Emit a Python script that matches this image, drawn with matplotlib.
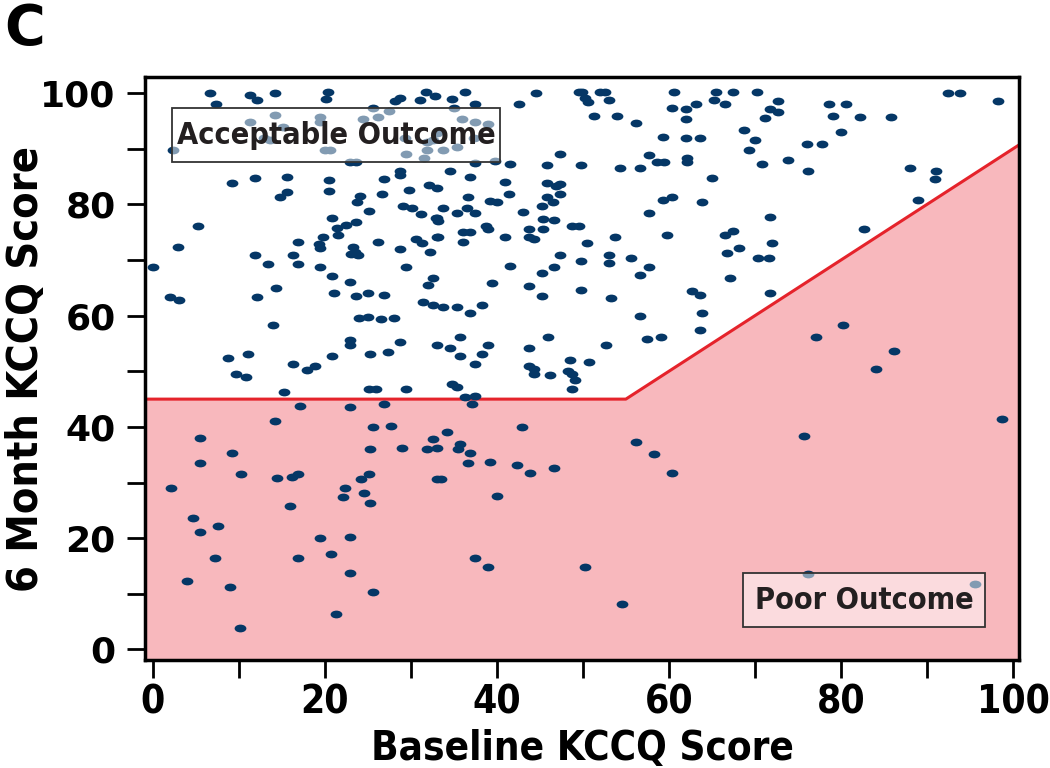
import matplotlib
matplotlib.use("Agg")
import matplotlib.pyplot as plt
from matplotlib.path import Path
from matplotlib.patches import Rectangle

# baseline KCCQ (x) and 6 month KCCQ (y)
baseline = [
    6.7, 7.4, 11.3, 12.1, 14.2, 20.4, 20.1, 14.2, 11.3, 19.5, 19.5, 15.2, 12.9, 13.6, 2.4, 20.0, 20.6, 22.9, 23.6, 25.6,
    26.2, 27.5, 24.5, 28.2, 28.8, 29.3, 29.5, 31.5, 31.9, 31.8, 32.8, 31.1,
    9.2, 11.9, 15.6, 20.5, 20.5, 15.6, 14.8, 26.9, 28.7, 28.7, 26.7, 24.1, 23.7, 29.8, 32.1, 33.1, 25.2, 29.1,
    30.2, 31.2, 32.9, 20.9, 23.6, 22.5, 21.4, 21.6, 5.3, 3.0, 16.9, 19.3, 19.5, 19.8, 23.3, 23.5, 23.9, 23.1, 26.2, 28.7,
    30.6, 31.3, 32.2, 33.1, 11.9, 16.3, 13.4, 16.9, 19.5, 29.5, 0.0,
    34.8, 36.3, 37.5, 35.0, 35.9, 37.5, 39.0, 37.3, 33.0, 31.9, 32.6, 35.4, 33.8, 39.8, 42.6, 44.5, 49.5, 49.9, 50.2, 50.6,
    52.0, 52.6, 53.1, 51.3, 54.0, 56.2, 60.6, 60.4, 62.0, 63.1, 62.0, 65.5, 65.2, 59.3, 62.0, 63.6, 47.3, 57.7, 58.6, 59.4,
    62.1, 62.1, 56.7, 54.3, 49.8, 45.8, 41.5, 37.5, 34.6, 36.9, 41.0, 41.4, 45.8, 46.9, 47.4, 47.4, 45.8, 46.5, 45.2, 36.6,
    39.2, 40.0, 43.1, 45.4, 46.7, 48.7, 49.5, 45.4, 43.7, 43.7, 44.3, 41.0, 50.5, 53.7, 59.8, 57.7, 59.3, 60.4, 63.9, 65.0,
    38.8, 39.0, 36.1, 36.9, 36.1, 33.2, 36.5, 37.5, 35.4, 33.8, 33.0, 33.2, 47.3, 49.8, 53.1, 53.1, 55.6, 57.7, 41.5, 46.7,
    45.2, 56.7,
    67.5, 66.5, 70.2, 72.7, 71.8, 72.7, 71.2, 68.7, 70.0, 69.3, 70.8, 73.9, 78.6, 80.6, 79.1, 82.2, 85.8, 80.0, 76.0, 77.8,
    76.2, 92.5, 93.8, 98.3, 71.7, 66.5, 67.5, 66.7, 68.1, 72.0, 70.4, 71.6, 82.7, 88.0, 91.0, 90.9, 88.9,
    20.9, 22.9, 32.6, 32.0, 2.0, 3.1, 12.1, 14.3, 21.1, 23.6, 25.0, 26.9, 31.4, 32.6, 24.0, 25.0, 26.5, 28.1, 14.0, 22.9,
    22.9, 28.7, 33.1, 8.8, 11.1, 9.7, 10.9, 16.3, 17.9, 18.9, 20.9, 25.3, 27.3, 15.3, 25.2, 26.0, 29.4, 17.1, 22.9, 26.9,
    14.2, 25.6, 27.7, 5.5, 9.2, 25.3, 29.0, 31.9, 33.1, 32.6,
    39.4, 43.7, 45.2, 49.8, 53.3, 62.7, 63.6, 63.8, 63.6, 56.7, 57.5, 59.1, 52.7, 33.8, 35.4, 36.9, 38.3, 35.7, 34.6, 35.7,
    38.3, 39.0, 37.5, 46.0, 43.7, 43.7, 44.3, 44.3, 46.2, 48.5, 50.7, 48.3, 48.7, 49.1, 48.8, 34.8, 35.4, 36.3, 37.5, 37.1,
    42.9, 34.2, 35.7, 35.5, 36.9, 56.2, 58.3,
    5.5, 10.3, 2.1, 14.4, 16.2, 16.9, 16.0, 22.3, 22.1, 24.2, 25.2, 24.6, 25.3, 33.1, 4.7, 5.5, 7.6, 7.3, 4.0, 9.0,
    10.2, 19.4, 22.9, 20.7, 16.9, 22.9, 25.6, 21.3,
    36.6, 39.2, 42.3, 43.9, 46.7, 33.5, 40.0, 60.4, 37.5, 39.0, 50.2, 54.6,
    67.1, 71.7, 80.2, 77.1, 86.2, 84.1, 98.7, 75.7, 76.2, 95.6,
]
month6 = [
    100.1, 98.0, 99.6, 98.8, 100.1, 100.2, 99.0, 96.1, 94.9, 95.8, 94.9, 94.0, 91.9, 91.5, 89.8, 89.8, 89.8, 87.7, 87.7, 97.3,
    95.8, 96.8, 95.3, 98.6, 99.1, 91.9, 89.1, 88.4, 89.8, 100.2, 99.5, 98.7,
    83.9, 84.7, 85.0, 84.3, 82.4, 82.2, 81.4, 84.5, 86.0, 85.3, 81.8, 81.6, 80.5, 82.6, 83.5, 82.9, 78.9, 79.7,
    79.3, 78.3, 77.5, 77.5, 76.9, 76.3, 75.7, 74.5, 76.2, 72.4, 73.3, 72.8, 72.1, 74.2, 72.4, 71.5, 70.9, 71.0, 73.3, 72.0,
    73.7, 73.0, 71.4, 74.1, 70.9, 70.9, 69.2, 69.2, 68.8, 68.8, 68.8,
    99.0, 100.2, 98.0, 97.3, 95.3, 94.9, 94.4, 91.9, 92.8, 91.3, 91.6, 90.4, 89.8, 87.8, 98.0, 100.1, 100.2, 100.2, 99.2, 98.5,
    100.2, 100.2, 98.8, 95.9, 95.9, 94.7, 100.2, 97.3, 97.1, 98.0, 95.3, 100.2, 98.7, 92.1, 91.9, 91.9, 89.1, 88.9, 87.7, 87.7,
    88.3, 87.7, 86.6, 86.6, 87.1, 87.1, 87.2, 87.4, 86.0, 85.0, 84.1, 81.9, 83.9, 83.3, 83.6, 81.9, 81.4, 80.4, 79.7, 81.4,
    80.6, 80.4, 78.7, 77.4, 77.2, 76.2, 76.2, 75.6, 75.6, 74.1, 73.8, 74.1, 73.0, 74.1, 74.5, 78.5, 80.8, 81.4, 80.4, 84.8,
    76.2, 75.5, 75.1, 75.1, 73.3, 74.1, 79.3, 78.4, 78.4, 79.3, 77.6, 77.1, 70.9, 69.9, 70.9, 69.4, 70.3, 68.8, 69.0, 68.8,
    67.6, 67.4,
    100.2, 98.0, 100.2, 98.6, 97.2, 96.7, 95.5, 93.4, 91.5, 89.8, 87.3, 87.9, 98.0, 98.0, 95.9, 95.7, 95.7, 93.0, 90.9, 90.9,
    86.0, 100.1, 100.1, 98.6, 77.8, 74.5, 75.3, 71.3, 72.1, 73.0, 70.3, 70.3, 75.6, 86.5, 86.0, 84.5, 80.8,
    67.1, 66.1, 66.7, 65.5, 63.4, 62.9, 63.4, 65.0, 64.0, 63.6, 64.0, 63.7, 62.5, 61.9, 59.5, 59.8, 59.4, 59.5, 58.3, 55.6,
    54.7, 55.3, 54.7, 52.4, 53.2, 49.6, 48.9, 51.4, 50.2, 51.0, 52.8, 53.1, 53.5, 46.3, 46.8, 46.8, 46.8, 43.8, 43.6, 44.2,
    41.1, 40.0, 40.2, 38.1, 35.3, 36.0, 36.3, 36.0, 36.3, 37.9,
    65.8, 65.4, 63.6, 64.6, 63.1, 64.4, 63.8, 60.4, 57.4, 60.0, 55.8, 56.2, 54.7, 61.6, 61.6, 60.4, 61.9, 56.2, 54.1, 52.8,
    53.2, 54.7, 51.4, 56.2, 54.1, 51.0, 50.5, 49.5, 49.3, 52.0, 51.6, 50.1, 49.6, 48.4, 46.8, 47.8, 47.2, 45.4, 45.6, 44.2,
    39.9, 39.1, 37.0, 36.1, 35.3, 37.3, 35.1,
    33.6, 31.5, 29.0, 30.9, 31.0, 31.5, 25.8, 29.0, 27.4, 30.7, 31.6, 28.1, 26.3, 30.6, 23.7, 21.2, 22.2, 16.5, 12.3, 11.3,
    3.9, 20.1, 20.3, 17.1, 16.5, 13.8, 10.3, 6.3,
    33.6, 33.7, 33.2, 31.8, 32.7, 30.6, 27.6, 31.7, 16.5, 14.9, 14.9, 8.1,
    66.7, 64.0, 58.3, 56.2, 53.7, 50.5, 41.5, 38.3, 13.5, 11.7,
]

# poor outcome boundary: below 45, or more than 10 points below baseline
bound_x = [-5, 55, 105]
bound_y = [45, 45, 95]

navy = "#053766"
pink = "#f8b8bd"
red = "#e5232b"
cond = dict(family="DejaVu Sans", stretch="condensed", weight="bold")

fig = plt.figure(figsize=(10.5, 7.68), dpi=100)
ax = fig.add_axes([0.138, 0.1406, 0.8325, 0.7591])

ax.fill_between(bound_x, bound_y, -10, color=pink, lw=0, zorder=1)
ax.plot(bound_x, bound_y, color=red, lw=2.2, zorder=2)

circ = Path.unit_circle()
oval = Path(circ.vertices * [1, 0.66], circ.codes)
ax.scatter(baseline, month6, s=72, marker=oval, color=navy, lw=0, zorder=3)

# label boxes (semi transparent, dots show through)
ax.add_patch(Rectangle((2.2, 87.6), 38.2, 9.8, fc=(1, 1, 1, 0.5), ec="#333333", lw=1.3, zorder=4))
ax.text(21.3, 92.4, "Acceptable Outcome", ha="center", va="center", fontsize=22,
        color="#231f20", zorder=5, **cond)
ax.add_patch(Rectangle((68.6, 4.0), 28.2, 9.7, fc=(1, 1, 1, 0.5), ec="#333333", lw=1.3, zorder=4))
ax.text(82.7, 8.8, "Poor Outcome", ha="center", va="center", fontsize=22,
        color="#231f20", zorder=5, **cond)

ax.set_xlim(-0.9, 100.7)
ax.set_ylim(-1.9, 102.9)
ax.set_xticks(range(0, 101, 20))
ax.set_xticks(range(0, 101, 10), minor=True)
ax.set_yticks(range(0, 101, 20))
ax.set_yticks(range(0, 101, 10), minor=True)
ax.tick_params(which="both", direction="out", length=13, width=2, color="black")
ax.tick_params(axis="x", which="major", pad=4)
ax.tick_params(axis="y", which="major", pad=8)
for lab in ax.get_xticklabels():
    lab.set_fontfamily("DejaVu Sans")
    lab.set_fontstretch("condensed")
    lab.set_fontsize(28)
    lab.set_fontweight("bold")
for lab in ax.get_yticklabels():
    lab.set_fontfamily("DejaVu Sans")
    lab.set_fontsize(26)
    lab.set_fontweight("bold")
for sp in ax.spines.values():
    sp.set_linewidth(2.5)

ax.set_xlabel("Baseline KCCQ Score", fontsize=29, **cond)
ax.set_ylabel("6 Month KCCQ Score", fontsize=31, **cond)
ax.xaxis.set_label_coords(0.5, -0.118)
ax.yaxis.set_label_coords(-0.112, 0.5)

fig.text(0.004, 0.997, "C", ha="left", va="top", fontsize=40, fontweight="bold", family="DejaVu Sans")

fig.savefig("out.png", dpi=100)
